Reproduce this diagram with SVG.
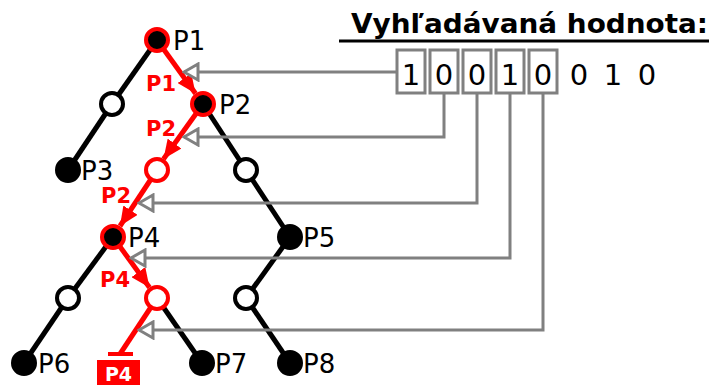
<svg xmlns="http://www.w3.org/2000/svg" width="714" height="385" viewBox="0 0 714 385">
<style>
.e{stroke:#000;stroke-width:5;fill:none}
.r{stroke:#f00;stroke-width:5;fill:none}
.g{stroke:#808080;stroke-width:3;fill:none}
.nb{fill:#000;stroke:#000;stroke-width:4}
.nw{fill:#fff;stroke:#000;stroke-width:4}
.nrb{fill:#000;stroke:#f00;stroke-width:4}
.nrw{fill:#fff;stroke:#f00;stroke-width:4}
.lbl{font-family:"DejaVu Sans",Verdana,sans-serif;font-size:26px;fill:#000}
.rl{font-family:"DejaVu Sans",Verdana,sans-serif;font-weight:bold;font-size:21px;fill:#f00}
.dig{font-family:"DejaVu Sans",Verdana,sans-serif;font-size:29px;fill:#000;text-anchor:middle}
.box{fill:#fff;stroke:#808080;stroke-width:3}
</style>
<defs>
<marker id="ra" viewBox="0 0 19 17" refX="19" refY="8.5" markerWidth="19" markerHeight="17" markerUnits="userSpaceOnUse" orient="auto">
<path d="M0,0 L19,8.5 L0,17 Z" fill="#f00"/>
</marker>
<marker id="ga" viewBox="0 0 18 20" refX="16" refY="10" markerWidth="18" markerHeight="20" markerUnits="userSpaceOnUse" orient="auto">
<path d="M2,2 L16,10 L2,18 Z" fill="#fff" stroke="#808080" stroke-width="3"/>
</marker>
</defs>
<g id="connectors">
<line class="e" x1="157" y1="40" x2="112" y2="104"/>
<line class="e" x1="112" y1="104" x2="68" y2="170"/>
<line class="e" x1="203" y1="104" x2="246" y2="170"/>
<line class="e" x1="246" y1="170" x2="290" y2="237"/>
<line class="e" x1="113" y1="237" x2="68" y2="298"/>
<line class="e" x1="68" y1="298" x2="24" y2="363"/>
<line class="e" x1="157" y1="298" x2="202" y2="363"/>
<line class="e" x1="290" y1="237" x2="246" y2="298"/>
<line class="e" x1="246" y1="298" x2="290" y2="363"/>
<line class="r" x1="157" y1="40" x2="195.5" y2="93.5" marker-end="url(#ra)"/>
<line class="r" x1="203" y1="104" x2="163.5" y2="159" marker-end="url(#ra)"/>
<line class="r" x1="157" y1="170" x2="120" y2="226" marker-end="url(#ra)"/>
<line class="r" x1="113" y1="237" x2="149.5" y2="287.5" marker-end="url(#ra)"/>
<line class="r" x1="157" y1="298" x2="120" y2="354"/>
<line x1="108" y1="354" x2="133" y2="354" stroke="#f00" stroke-width="4"/>
<polyline class="g" points="397,72 184,72" marker-end="url(#ga)"/>
<polyline class="g" points="444,93 444,137 184,137" marker-end="url(#ga)"/>
<polyline class="g" points="477,93 477,203 139,203" marker-end="url(#ga)"/>
<polyline class="g" points="510,93 510,258 131,258" marker-end="url(#ga)"/>
<polyline class="g" points="543,93 543,330 139,330" marker-end="url(#ga)"/>
</g>
<g id="P1"><circle class="nrb" cx="157" cy="40" r="11"/><text class="lbl" x="173" y="50">P1</text></g>
<g id="n1"><circle class="nw" cx="112" cy="104" r="11"/></g>
<g id="P2"><circle class="nrb" cx="203" cy="104" r="11"/><text class="lbl" x="219" y="114">P2</text></g>
<g id="P3"><circle class="nb" cx="68" cy="170" r="11"/><text class="lbl" x="81" y="180">P3</text></g>
<g id="n2"><circle class="nrw" cx="157" cy="170" r="11"/></g>
<g id="n3"><circle class="nw" cx="246" cy="170" r="11"/></g>
<g id="P4"><circle class="nrb" cx="113" cy="237" r="11"/><text class="lbl" x="128" y="247">P4</text></g>
<g id="P5"><circle class="nb" cx="290" cy="237" r="11"/><text class="lbl" x="303" y="247">P5</text></g>
<g id="n4"><circle class="nw" cx="68" cy="298" r="11"/></g>
<g id="n5"><circle class="nrw" cx="157" cy="298" r="11"/></g>
<g id="n6"><circle class="nw" cx="246" cy="298" r="11"/></g>
<g id="P6"><circle class="nb" cx="24" cy="363" r="11"/><text class="lbl" x="38" y="373">P6</text></g>
<g id="P7"><circle class="nb" cx="202" cy="363" r="11"/><text class="lbl" x="215" y="373">P7</text></g>
<g id="P8"><circle class="nb" cx="290" cy="363" r="11"/><text class="lbl" x="303" y="373">P8</text></g>
<g id="red-labels">
<text class="rl" x="146" y="91">P1</text>
<text class="rl" x="146" y="136">P2</text>
<text class="rl" x="101" y="203">P2</text>
<text class="rl" x="100" y="287">P4</text>
</g>
<g id="result">
<rect x="97" y="360" width="43" height="25" fill="#f00"/>
<text x="118.5" y="381" font-family="DejaVu Sans, Verdana, sans-serif" font-weight="bold" font-size="19" fill="#fff" text-anchor="middle">P4</text>
</g>
<g id="title">
<text x="351" y="33" font-family="DejaVu Sans, Verdana, sans-serif" font-weight="bold" font-size="27" fill="#000" textLength="357" lengthAdjust="spacingAndGlyphs">Vyhľadávaná hodnota:</text>
<line x1="339" y1="41" x2="709" y2="41" stroke="#000" stroke-width="3"/>
</g>
<g id="value">
<rect class="box" x="397" y="50" width="28" height="43"/>
<rect class="box" x="430" y="50" width="28" height="43"/>
<rect class="box" x="463" y="50" width="28" height="43"/>
<rect class="box" x="496" y="50" width="28" height="43"/>
<rect class="box" x="529" y="50" width="28" height="43"/>
<text class="dig" x="411" y="85">1</text>
<text class="dig" x="444" y="85">0</text>
<text class="dig" x="477" y="85">0</text>
<text class="dig" x="510" y="85">1</text>
<text class="dig" x="543" y="85">0</text>
<text class="dig" x="579" y="85">0</text>
<text class="dig" x="613" y="85">1</text>
<text class="dig" x="647" y="85">0</text>
</g>
</svg>
